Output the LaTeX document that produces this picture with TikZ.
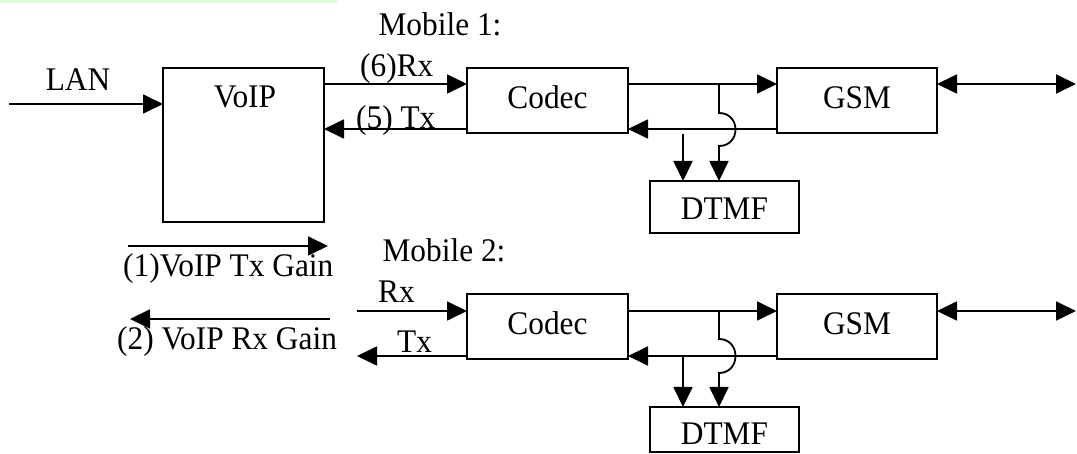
\documentclass[tikz,border=0pt]{standalone}
\usepackage{fontspec}
\setmainfont{Liberation Serif}[FakeStretch=0.95]
\usetikzlibrary{arrows.meta}
\definecolor{bandgreen}{HTML}{DDFADD}
\begin{document}
\begin{tikzpicture}[x=1pt,y=-1pt,
  box/.style={draw,line width=1.8pt,inner sep=0pt,outer sep=0pt},
  lbl/.style={inner sep=0pt,font=\fontsize{33}{38}\selectfont},
  conn/.style={line width=1.8pt},
  arr/.style={conn,-{Triangle[length=20pt,width=19pt]}},
  arrboth/.style={conn,{Triangle[length=20pt,width=19pt]}-{Triangle[length=20pt,width=19pt]}}]
\useasboundingbox (0,0) rectangle (1077,454);
\fill[bandgreen] (0,0) rectangle (338,3.5);

% boxes
\node[box,minimum width=161pt,minimum height=154pt] (voip) at (243.5,145) {};
\node[box,minimum width=161pt,minimum height=65pt] (codec1) at (547.5,100.5) {};
\node[box,minimum width=160pt,minimum height=65pt] (gsm1) at (857,100.5) {};
\node[box,minimum width=149pt,minimum height=52pt] (dtmf1) at (724.5,207) {};
\node[box,minimum width=161pt,minimum height=65pt] (codec2) at (547.5,326.5) {};
\node[box,minimum width=160pt,minimum height=65pt] (gsm2) at (857,326.5) {};
\node[box,minimum width=149pt,minimum height=45pt] (dtmf2) at (724.5,429.5) {};

% texts
\node[lbl,anchor=base] (tlan) at (78,91) {LAN};
\node[lbl,anchor=base] (tvoip) at (245,108) {VoIP};
\node[lbl,anchor=base] (tcodec1) at (547.5,109) {Codec};
\node[lbl,anchor=base] (tgsm1) at (857,109) {GSM};
\node[lbl,anchor=base] (tdtmf1) at (724.5,220) {DTMF};
\node[lbl,anchor=base] (tmob1) at (440,36) {Mobile 1:};
\node[lbl,anchor=base west] (trx6) at (360,77) {(6)Rx};
\node[lbl,anchor=base west] (ttx5) at (356,129) {(5) Tx};
\node[lbl,anchor=base west] (tg1) at (123,277) {(1)VoIP Tx Gain};
\node[lbl,anchor=base west] (tg2) at (117,350) {(2) VoIP Rx Gain};
\node[lbl,anchor=base] (tmob2) at (444,262) {Mobile 2:};
\node[lbl,anchor=base west] (trx2) at (378,303) {Rx};
\node[lbl,anchor=base west] (ttx2) at (397,353) {Tx};
\node[lbl,anchor=base] (tcodec2) at (547.5,335) {Codec};
\node[lbl,anchor=base] (tgsm2) at (857,335) {GSM};
\node[lbl,anchor=base] (tdtmf2) at (724.5,444) {DTMF};

% level coordinates
\coordinate (r1) at (0,84);
\coordinate (t1) at (0,129);
\coordinate (r2) at (0,311);
\coordinate (t2) at (0,356);
\coordinate (lanin) at (9,104);
\coordinate (out1) at (1076,84);
\coordinate (out2) at (1076,311);
\coordinate (j1) at (719,84);
\coordinate (j2) at (719,311);
\coordinate (d1) at (683,134);
\coordinate (d2) at (683,356);
\coordinate (g1a) at (128,246);
\coordinate (g1b) at (328,246);
\coordinate (g2a) at (330,319);
\coordinate (g2b) at (130,319);
\coordinate (rx2in) at (357,311);
\coordinate (tx2out) at (357,356);

% mobile 1
\draw[arr] (lanin) -- (voip.west |- lanin);
\draw[arr] (voip.east |- r1) -- (codec1.west |- r1);
\draw[arr] (codec1.west |- t1) -- (voip.east |- t1);
\draw[arr] (codec1.east |- r1) -- (gsm1.west |- r1);
\draw[arr] (gsm1.west |- t1) -- (codec1.east |- t1);
\draw[arrboth] (gsm1.east |- r1) -- (out1);
\draw[arr] (j1) -- (719,113) .. controls (741,113) and (741,146) .. (719,146) -- (dtmf1.north -| j1);
\draw[arr] (d1) -- (dtmf1.north -| d1);

% gains
\draw[arr] (g1a) -- (g1b);
\draw[arr] (g2a) -- (g2b);

% mobile 2
\draw[arr] (rx2in) -- (codec2.west |- rx2in);
\draw[arr] (codec2.west |- tx2out) -- (tx2out);
\draw[arr] (codec2.east |- r2) -- (gsm2.west |- r2);
\draw[arr] (gsm2.west |- t2) -- (codec2.east |- t2);
\draw[arrboth] (gsm2.east |- r2) -- (out2);
\draw[arr] (j2) -- (719,339) .. controls (741,339) and (741,373) .. (719,373) -- (dtmf2.north -| j2);
\draw[arr] (d2) -- (dtmf2.north -| d2);
\end{tikzpicture}
\end{document}
